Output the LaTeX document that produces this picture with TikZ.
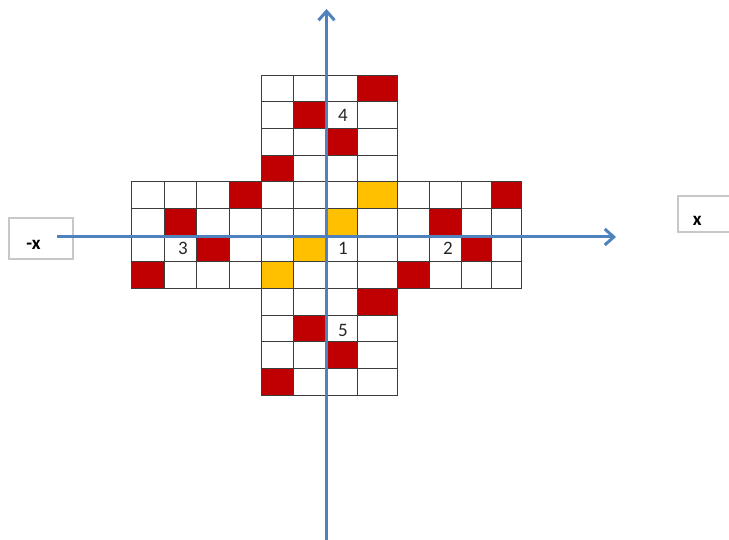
\documentclass[tikz,border=0pt]{standalone}
\usepackage{fontspec}
\setmainfont{Carlito}
\usetikzlibrary{arrows.meta}

\definecolor{axisblue}{RGB}{79,129,189}
\definecolor{cellred}{RGB}{192,0,0}
\definecolor{cellgold}{RGB}{255,192,0}
\definecolor{gridgray}{RGB}{60,60,60}
\definecolor{boxgray}{RGB}{200,200,200}

% column edges of the sheet (one column is wider)
\def\coledges{{131,164.3,196.7,229,261,293,326,357,397.3,429.3,461.7,491,521.7}}

% one cell of the sheet: column, row, style
\newcommand{\gridcell}[3]{%
  \pgfmathsetmacro{\cxa}{\coledges[#1]}%
  \pgfmathsetmacro{\cxb}{\coledges[#1+1]}%
  \pgfmathsetmacro{\cya}{75+26.67*#2}%
  \pgfmathsetmacro{\cyb}{75+26.67*(#2+1)}%
  \path[#3] (\cxa,\cya) rectangle (\cxb,\cyb);%
}

\begin{document}
\begin{tikzpicture}[>=latex, x=1pt, y=-1pt]

% --- Global TikZ Styles for Consistency ---
\tikzset{
    cell/.style={fill=white, draw=gridgray, line width=0.9pt},
    redcell/.style={cell, fill=cellred},
    goldcell/.style={cell, fill=cellgold},
    num/.style={text=black!85, font=\fontsize{19}{22}\selectfont, inner sep=0pt},
    labelbox/.style={draw=boxgray, line width=1.2pt, fill=white},
    labeltext/.style={text=black, font=\fontsize{19}{22}\selectfont\bfseries, inner sep=0pt},
    axis/.style={
        -{Straight Barb[length=9pt, width=16pt]},
        line width=3pt,
        draw=axisblue
    }
}

\useasboundingbox (0,0) rectangle (729,540);

% Blad: vertical arm (top and bottom)
\foreach \r in {0,...,3,8,9,10,11}
    \foreach \c in {4,...,7}
        \gridcell{\c}{\r}{cell};

% Blad: horizontal arm
\foreach \r in {4,...,7}
    \foreach \c in {0,...,11}
        \gridcell{\c}{\r}{cell};

% Red cells
\foreach \c/\r in {7/0, 5/1, 6/2, 4/3, 3/4, 11/4, 1/5, 9/5,
                   2/6, 10/6, 0/7, 8/7, 7/8, 5/9, 6/10, 4/11}
    \gridcell{\c}{\r}{redcell};

% Gold cells around the origin
\foreach \c/\r in {7/4, 6/5, 5/6, 4/7}
    \gridcell{\c}{\r}{goldcell};

% Numbers in the sheet
\node[num] (n4) at (343,115.7) {4};
\node[num] (n3) at (183,248.5) {3};
\node[num] (n1) at (343,248.5) {1};
\node[num] (n2) at (448,248.5) {2};
\node[num] (n5) at (343,330) {5};

% Axis labels
\draw[labelbox] (9,218) rectangle (73,259);
\node[labeltext, anchor=base] (negx) at (33.5,250) {-x};
\draw[labelbox] (678,196) rectangle (745,232);
\node[labeltext, anchor=base] (posx) at (697.3,225.7) {x};

% Axes
\coordinate (xfrom) at (57,237);
\coordinate (xto)   at (616,237);
\coordinate (yfrom) at (326.5,541);
\coordinate (yto)   at (326.5,9);
\draw[axis] (xfrom) -- (xto);
\draw[axis] (yfrom) -- (yto);

\end{tikzpicture}
\end{document}
